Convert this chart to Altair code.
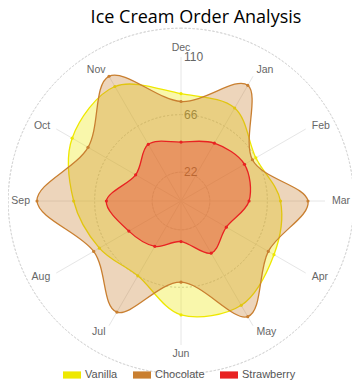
import math
import altair as alt
import pandas as pd

# ---- data ----
title_text = "Ice Cream Order Analysis"
months = ["Dec", "Jan", "Feb", "Mar", "Apr", "May", "Jun", "Jul", "Aug", "Sep", "Oct", "Nov"]
vanilla = [82, 82, 66, 76, 82, 92, 87, 66, 72, 82, 96, 101]
chocolate = [76, 102, 63, 97, 77, 102, 62, 98, 77, 110, 82, 110]
strawberry = [45, 51, 56, 52, 40, 46, 31, 40, 46, 57, 40, 50]
series_names = ["Vanilla", "Chocolate", "Strawberry"]
series_values = [vanilla, chocolate, strawberry]
series_colors = ["#eee800", "#c97f30", "#e82222"]
ring_values = [22, 44, 66, 88, 110]
tick_values = [22, 66, 110]
r_max = 110

# ---- layout ----
PLOT = 288
R_PX = PLOT / 2
LABEL_R = 151 / (R_PX / r_max)      # data units for side labels
LABEL_R_TB = 148 / (R_PX / r_max)   # data units for top/bottom labels

rows = []
for name, vals in zip(series_names, series_values):
    for i, (m, v) in enumerate(zip(months, vals)):
        rows.append({"series": name, "month": m, "idx": i, "value": v})
df = pd.DataFrame(rows)
mdf = pd.DataFrame({"month": months, "idx": list(range(len(months)))})
rdf = pd.DataFrame({"r": ring_values})
tdf = pd.DataFrame({"t": tick_values})

xs = alt.Scale(domain=[-r_max, r_max], nice=False, zero=False)
ys = alt.Scale(domain=[-r_max, r_max], nice=False, zero=False)
color = alt.Color(
    "series:N",
    scale=alt.Scale(domain=series_names, range=series_colors),
    legend=alt.Legend(
        title=None, orient="none", direction="horizontal", legendX=26, legendY=309,
        symbolType="M-1,-0.4H1V0.4H-1Z", symbolSize=324, symbolStrokeWidth=0,
        symbolOpacity=1, labelFont="Liberation Sans", labelFontSize=11,
        labelColor="#555", labelOffset=4, columnPadding=15,
    ),
)

title = alt.Chart(pd.DataFrame({"t": [title_text]})).mark_text(
    font="Open Sans", fontSize=18, color="#000", align="center", baseline="middle"
).encode(x=alt.value(159), y=alt.value(-39), text="t:N")

rings = alt.Chart(rdf).mark_arc(
    filled=False, stroke="#d6d6d6", strokeWidth=1, strokeDash=[2, 2]
).encode(
    radius=alt.Radius("r:Q", scale=alt.Scale(type="linear", domain=[0, r_max], range=[0, R_PX], zero=True)),
    theta=alt.value(0),
    theta2=alt.value(2 * math.pi),
)

spokes = alt.Chart(mdf).transform_calculate(
    th="datum.idx * PI / 6",
    zx="0", zy="0",
    sx=f"{r_max} * sin(datum.th)",
    sy=f"{r_max} * cos(datum.th)",
).mark_rule(color="#e6e6e6", strokeWidth=1).encode(
    x=alt.X("zx:Q", scale=xs, axis=None),
    y=alt.Y("zy:Q", scale=ys, axis=None),
    x2="sx:Q", y2="sy:Q",
)

ticks = alt.Chart(tdf).transform_calculate(zx="0").mark_text(
    align="left", baseline="middle", dx=3, font="Liberation Sans", fontSize=12, color="#666"
).encode(
    x=alt.X("zx:Q", scale=xs, axis=None),
    y=alt.Y("t:Q", scale=ys, axis=None),
    text="t:Q",
)


def month_labels(filter_expr, align, baseline, rad):
    return alt.Chart(mdf).transform_filter(filter_expr).transform_calculate(
        th="datum.idx * PI / 6",
        lx=f"{rad} * sin(datum.th)",
        ly=f"{rad} * cos(datum.th)",
    ).mark_text(
        align=align, baseline=baseline, font="Liberation Sans", fontSize=10.5, color="#666"
    ).encode(
        x=alt.X("lx:Q", scale=xs, axis=None),
        y=alt.Y("ly:Q", scale=ys, axis=None),
        text="month:N",
    )


lab_right = month_labels("datum.idx >= 1 && datum.idx <= 5", "left", "middle", LABEL_R)
lab_left = month_labels("datum.idx >= 7", "right", "middle", LABEL_R)
lab_top = month_labels("datum.idx == 0", "center", "bottom", LABEL_R_TB)
lab_bot = month_labels("datum.idx == 6", "center", "top", LABEL_R_TB)

base = alt.Chart(df).transform_calculate(
    th="datum.idx * PI / 6",
    px="datum.value * sin(datum.th)",
    py="datum.value * cos(datum.th)",
)

layers = []
for name in series_names:
    b = base.transform_filter(alt.datum.series == name)
    enc = dict(
        x=alt.X("px:Q", scale=xs, axis=None),
        y=alt.Y("py:Q", scale=ys, axis=None),
        order=alt.Order("idx:Q"),
        color=color,
    )
    fill = b.mark_line(filled=True, fillOpacity=0.33, interpolate="cardinal-closed").encode(**enc)
    line = b.mark_line(strokeWidth=1.3, interpolate="cardinal-closed").encode(**enc)
    pts = b.mark_point(filled=True, size=10, opacity=1).encode(
        x=alt.X("px:Q", scale=xs, axis=None),
        y=alt.Y("py:Q", scale=ys, axis=None),
        color=color,
    )
    layers += [fill, line, pts]

chart = alt.layer(
    rings, spokes, ticks, lab_right, lab_left, lab_top, lab_bot, *layers, title
).properties(
    width=PLOT, height=PLOT,
    autosize=alt.AutoSizeParams(type="none"),
    padding={"left": 29, "top": 49, "right": 27, "bottom": 38},
).configure_view(stroke=None)

chart.save("out.html", embed_options={"renderer": "svg", "actions": False})
